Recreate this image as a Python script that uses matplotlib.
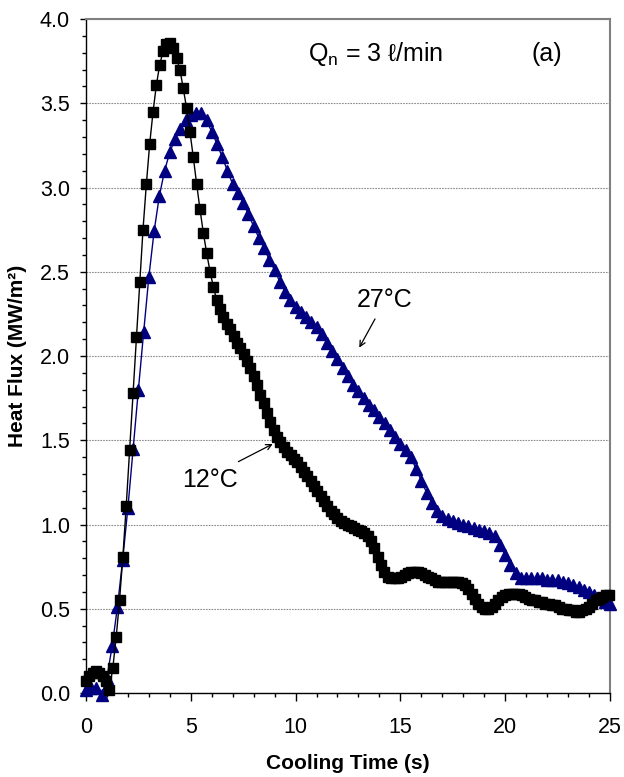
import numpy as np
import matplotlib
matplotlib.use('Agg')
import matplotlib.pyplot as plt
from matplotlib.ticker import MultipleLocator, FormatStrFormatter

plt.rcParams['font.family'] = ['Liberation Sans', 'DejaVu Sans']
plt.rcParams['mathtext.fontset'] = 'custom'
plt.rcParams['mathtext.rm'] = 'Liberation Sans'

# heat flux (MW/m2), 12 C water, logged every 0.16 s
dt_12 = 0.16
flux_12 = [
    0.07, 0.10, 0.12, 0.13, 0.12, 0.10, 0.07, 0.02, 0.15, 0.33,
    0.55, 0.81, 1.11, 1.44, 1.78, 2.11, 2.44, 2.75, 3.02, 3.26,
    3.45, 3.61, 3.73, 3.81, 3.85, 3.86, 3.83, 3.77, 3.70, 3.59,
    3.47, 3.33, 3.18, 3.02, 2.87, 2.73, 2.61, 2.50, 2.41, 2.33,
    2.28, 2.23, 2.19, 2.16, 2.12, 2.08, 2.05, 2.01, 1.97, 1.93,
    1.88, 1.83, 1.77, 1.72, 1.66, 1.61, 1.56, 1.52, 1.49, 1.46,
    1.43, 1.41, 1.39, 1.37, 1.34, 1.31, 1.29, 1.26, 1.23, 1.20,
    1.17, 1.14, 1.11, 1.08, 1.06, 1.04, 1.02, 1.01, 1.00, 0.99,
    0.98, 0.97, 0.96, 0.95, 0.93, 0.90, 0.86, 0.81, 0.76, 0.72,
    0.69, 0.68, 0.68, 0.68, 0.69, 0.70, 0.71, 0.72, 0.72, 0.72,
    0.71, 0.70, 0.69, 0.68, 0.67, 0.66, 0.66, 0.66, 0.66, 0.66,
    0.66, 0.66, 0.65, 0.64, 0.62, 0.59, 0.56, 0.53, 0.51, 0.50,
    0.50, 0.51, 0.53, 0.55, 0.57, 0.58, 0.59, 0.59, 0.59, 0.59,
    0.58, 0.57, 0.56, 0.55, 0.55, 0.54, 0.54, 0.53, 0.53, 0.52,
    0.52, 0.51, 0.50, 0.50, 0.49, 0.49, 0.48, 0.48, 0.49, 0.50,
    0.51, 0.53, 0.55, 0.56, 0.57, 0.58, 0.58,
]

# heat flux (MW/m2), 27 C water, logged every 0.25 s (one row per second)
dt_27 = 0.25
flux_27 = [
    0.02, 0.03, 0.03, -0.01,
    0.09, 0.28, 0.51, 0.79,
    1.10, 1.45, 1.80, 2.14,
    2.47, 2.74, 2.95, 3.10,
    3.21, 3.29, 3.35, 3.40,
    3.43, 3.44, 3.44, 3.40,
    3.33, 3.26, 3.18, 3.10,
    3.02, 2.97, 2.91, 2.84,
    2.77, 2.70, 2.64, 2.57,
    2.51, 2.44, 2.38, 2.33,
    2.29, 2.26, 2.23, 2.20,
    2.17, 2.13, 2.08, 2.03,
    1.98, 1.93, 1.88, 1.83,
    1.79, 1.75, 1.71, 1.68,
    1.64, 1.60, 1.56, 1.52,
    1.48, 1.44, 1.40, 1.33,
    1.26, 1.19, 1.13, 1.08,
    1.05, 1.03, 1.02, 1.01,
    1.00, 0.99, 0.98, 0.97,
    0.96, 0.95, 0.93, 0.88,
    0.82, 0.76, 0.71, 0.68,
    0.68, 0.68, 0.68, 0.68,
    0.67, 0.67, 0.67, 0.66,
    0.65, 0.64, 0.63, 0.61,
    0.60, 0.58, 0.56, 0.54,
    0.53,
]

t_12 = dt_12 * np.arange(len(flux_12))
t_27 = dt_27 * np.arange(len(flux_27))

navy = '#000080'

fig = plt.figure(figsize=(6.24, 7.77), dpi=100)
ax = fig.add_axes([0.1378, 0.1081, 0.8397, 0.8674])

ax.plot(t_27, flux_27, '-', color=navy, lw=1.0, marker='^', ms=9,
        mfc=navy, mec=navy, clip_on=False, zorder=3)
ax.plot(t_12, flux_12, '-', color='black', lw=1.0, marker='s', ms=7.6,
        mfc='black', mec='black', clip_on=False, zorder=4)

ax.set_xlim(0, 25)
ax.set_ylim(0, 4.0)
ax.xaxis.set_major_locator(MultipleLocator(5))
ax.xaxis.set_minor_locator(MultipleLocator(1))
ax.yaxis.set_major_locator(MultipleLocator(0.5))
ax.yaxis.set_minor_locator(MultipleLocator(0.1))
ax.yaxis.set_major_formatter(FormatStrFormatter('%.1f'))

ax.tick_params(which='both', direction='out', width=1, color='black')
ax.tick_params(which='major', length=5, labelsize=15.5)
ax.tick_params(which='minor', length=3)
ax.tick_params(axis='x', which='major', length=5.5, pad=12)
ax.tick_params(axis='y', which='major', length=4.5, pad=7)

ax.yaxis.grid(True, which='major', color='#8c8c8c', lw=0.8, ls=(0, (1.5, 1)))
ax.set_axisbelow(True)

for side in ('top', 'right'):
    ax.spines[side].set_color('#808080')
    ax.spines[side].set_linewidth(1.5)
for side in ('left', 'bottom'):
    ax.spines[side].set_color('black')
    ax.spines[side].set_linewidth(1.0)

ax.set_xlabel('Cooling Time (s)', fontsize=15, fontweight='bold')
ax.xaxis.set_label_coords(0.5, -0.09)
ax.set_ylabel('Heat Flux (MW/m²)', fontsize=15, fontweight='bold')
ax.yaxis.set_label_coords(-0.112, 0.5)

ax.text(10.6, 3.75, 'Q$_\\mathregular{n}$ = 3 ℓ/min', fontsize=18, va='baseline')
ax.text(21.26, 3.75, '(a)', fontsize=18, va='baseline')

ax.text(12.91, 2.29, '27°C', fontsize=18, va='baseline')
ax.annotate('', xy=(13.04, 2.05), xytext=(13.79, 2.22),
            arrowprops=dict(arrowstyle='->', lw=0.9, color='black',
                            shrinkA=0, shrinkB=0))

ax.text(4.57, 1.224, '12°C', fontsize=18, va='baseline')
ax.annotate('', xy=(8.91, 1.478), xytext=(7.27, 1.373),
            arrowprops=dict(arrowstyle='->', lw=0.9, color='black',
                            shrinkA=0, shrinkB=0))

fig.savefig('out.png', dpi=100)
